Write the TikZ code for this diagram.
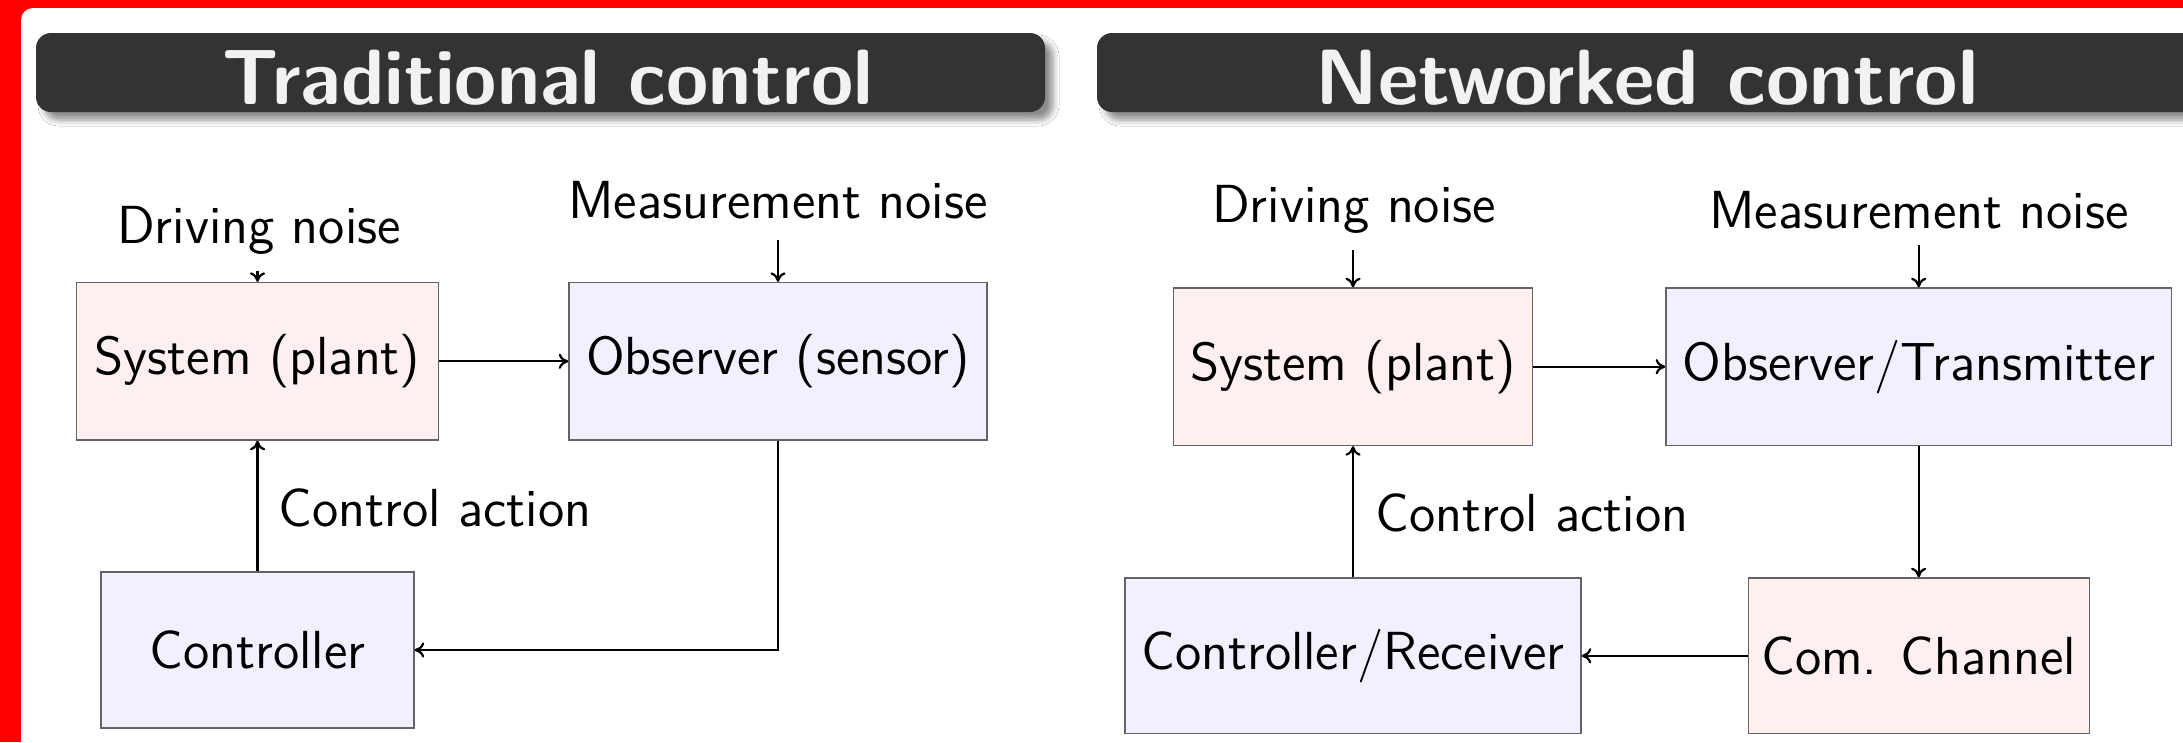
\documentclass[tikz,border=0pt]{standalone}
\usepackage{fontspec}
\usepackage{graphicx}
\usetikzlibrary{shadows.blur,arrows.meta}

\definecolor{framered}{RGB}{255,0,0}
\definecolor{barbg}{RGB}{51,51,51}
\definecolor{headtxt}{RGB}{242,242,242}
\definecolor{plantfill}{RGB}{255,240,240}
\definecolor{obsfill}{RGB}{240,240,255}
\definecolor{edgegray}{RGB}{100,100,100}

% block title: bold sans, fitted to a given width
\newcommand{\headtitle}[2]{\resizebox{#1}{\height}{\sffamily\bfseries\fontsize{19.6}{24}\selectfont #2}}

\tikzset{
  diagtext/.style={font=\sffamily\fontsize{13.4}{16}\selectfont, inner sep=0pt},
  blockbox/.style={diagtext, draw=edgegray, line width=0.35pt, anchor=center},
  plantbox/.style={blockbox, fill=plantfill},
  obsbox/.style={blockbox, fill=obsfill},
  label/.style={diagtext, anchor=base},
  link/.style={-{To[length=2.4pt, width=3.8pt]}, line width=0.55pt, black},
  headbar/.style={fill=barbg, rounded corners=3.75pt,
    blur shadow={shadow xshift=2pt, shadow yshift=-2pt, shadow blur steps=6,
      shadow blur radius=1.5pt, shadow opacity=45}},
  headtext/.style={text=headtxt, inner sep=0pt, anchor=base},
}

\begin{document}
\begin{tikzpicture}[x=0.25pt, y=-0.25pt]
  \useasboundingbox (0,0) rectangle (2183,742);

  % frame and slide background
  \fill[framered] (0,0) rectangle (2183,742);
  \fill[white, rounded corners=3pt] (21,8) rectangle (2240,800);

  % block title bars
  \fill[headbar] (36,33) rectangle (1045,112);
  \fill[headbar] (1097,33) rectangle (2240,112);
  \node[headtext] (titleA) at (548,104) {\headtitle{162.5pt}{Traditional control}};
  \node[headtext] (titleB) at (1647,104) {\headtitle{165.75pt}{Networked control}};

  % ---------- traditional control loop ----------
  \node[plantbox, minimum width=90.5pt, minimum height=39.35pt] (sysA) at (257.5,361.3) {System (plant)};
  \node[obsbox, minimum width=104.5pt, minimum height=39.35pt] (obsA) at (778,361.3) {Observer (sensor)};
  \node[obsbox, minimum width=78.25pt, minimum height=39pt] (ctrlA) at (257.5,650) {Controller};

  \node[label] (dnA) at (259,243) {Driving noise};
  \node[label] (mnA) at (778,218) {Measurement noise};
  \node[label, anchor=base west] (caA) at (278,526) {Control action};

  \coordinate (dnAend) at (257.5,271);
  \coordinate (mnAend) at (778,240);

  \draw[link] (dnAend) -- (sysA);
  \draw[link] (mnAend) -- (obsA);
  \draw[link] (sysA) -- (obsA);
  \draw[link] (obsA.south) |- (ctrlA.east);
  \draw[link] (ctrlA) -- (sysA);

  % ---------- networked control loop ----------
  \node[plantbox, minimum width=89.75pt, minimum height=39.35pt] (sysB) at (1353,366.7) {System (plant)};
  \node[obsbox, minimum width=126.4pt, minimum height=39.35pt] (obsB) at (1918.7,366.7) {Observer/Transmitter};
  \node[obsbox, minimum width=114pt, minimum height=38.9pt] (ctrlB) at (1353,655.8) {Controller/Receiver};
  \node[plantbox, minimum width=85.25pt, minimum height=38.9pt] (comB) at (1918.7,655.8) {Com. Channel};

  \node[label] (dnB) at (1354,222) {Driving noise};
  \node[label] (mnB) at (1919,228) {Measurement noise};
  \node[label, anchor=base west] (caB) at (1375,531) {Control action};

  \coordinate (dnBend) at (1353,250);
  \coordinate (mnBend) at (1918.7,245);

  \draw[link] (dnBend) -- (sysB);
  \draw[link] (mnBend) -- (obsB);
  \draw[link] (sysB) -- (obsB);
  \draw[link] (obsB) -- (comB);
  \draw[link] (comB) -- (ctrlB);
  \draw[link] (ctrlB) -- (sysB);
\end{tikzpicture}
\end{document}
